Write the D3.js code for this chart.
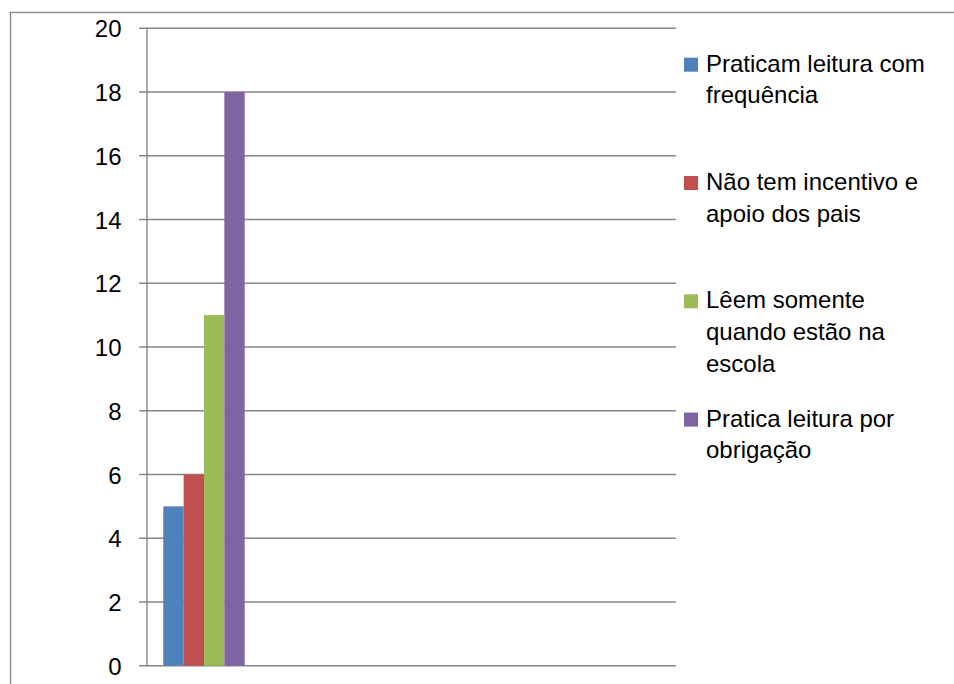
<!DOCTYPE html>
<html>
<head>
<meta charset="utf-8">
<script src="https://cdn.jsdelivr.net/npm/d3@7"></script>
<style>
  html, body { margin: 0; padding: 0; background: #fff; }
  svg { display: block; }
  text { font-family: "Liberation Sans", Arial, sans-serif; fill: #000; }
</style>
</head>
<body>
<svg id="chart" width="954" height="684"></svg>
<script>
// ---- data ----
const categories = ["1"];
const seriesNames = [
  "Praticam leitura com frequência",
  "Não tem incentivo e apoio dos pais",
  "Lêem somente quando estão na escola",
  "Pratica leitura por obrigação"
];
const seriesValues = [5, 6, 11, 18];
const seriesColors = ["#4F81BD", "#C0504D", "#9BBB59", "#8064A2"];
const legendLines = [
  ["Praticam leitura com", "frequência"],
  ["Não tem incentivo e", "apoio dos pais"],
  ["Lêem somente", "quando estão na", "escola"],
  ["Pratica leitura por", "obrigação"]
];
const yTicks = [0, 2, 4, 6, 8, 10, 12, 14, 16, 18, 20];

// ---- layout ----
const svg = d3.select("#chart");
const plot = { left: 147, right: 676, top: 28.3, bottom: 665.7 };
const gridColor = "#868686";
const fontSize = 24;

// outer chart border
svg.append("rect")
  .attr("x", 10.5).attr("y", 12.5)
  .attr("width", 1000).attr("height", 1000)
  .attr("fill", "none").attr("stroke", gridColor).attr("stroke-width", 1.3);

const y = d3.scaleLinear().domain([0, 20]).range([plot.bottom, plot.top]);

// gridlines
svg.append("g").selectAll("line").data(yTicks).join("line")
  .attr("x1", plot.left - 8).attr("x2", plot.right)
  .attr("y1", d => y(d)).attr("y2", d => y(d))
  .attr("stroke", gridColor).attr("stroke-width", 1.4);

// y axis line
svg.append("line")
  .attr("x1", plot.left).attr("x2", plot.left)
  .attr("y1", plot.top).attr("y2", plot.bottom)
  .attr("stroke", gridColor).attr("stroke-width", 1.4);

// y axis labels via d3 axis
const yAxis = d3.axisLeft(y).tickValues(yTicks).tickSize(0).tickPadding(0);
const gy = svg.append("g").attr("transform", `translate(${121.5},0)`).call(yAxis);
gy.select(".domain").remove();
gy.selectAll("text")
  .style("font-family", '"Liberation Sans", Arial, sans-serif')
  .style("font-size", fontSize + "px")
  .attr("fill", "#000")
  .attr("dy", "0.36em");

// bars
const x0 = d3.scaleBand().domain(categories)
  .range([plot.left, plot.left + 114]).paddingInner(0).paddingOuter(0.2);
const x1 = d3.scaleBand().domain(d3.range(seriesNames.length))
  .range([0, x0.bandwidth()]).padding(0);

const g = svg.append("g");
categories.forEach(cat => {
  g.selectAll("rect.bar").data(seriesValues).join("rect")
    .attr("class", "bar")
    .attr("x", (d, i) => x0(cat) + x1(i))
    .attr("width", x1.bandwidth())
    .attr("y", d => y(d))
    .attr("height", d => y(0) - y(d))
    .attr("fill", (d, i) => seriesColors[i]);
});

// legend
const legendX = 684;
const legendBase0 = 71.7;
const legendStep = 118.3;
const lineH = 31.7;
const leg = svg.append("g");
seriesNames.forEach((name, i) => {
  const base = legendBase0 + i * legendStep;
  leg.append("rect")
    .attr("x", legendX).attr("y", base - 14)
    .attr("width", 14).attr("height", 14)
    .attr("fill", seriesColors[i]);
  const t = leg.append("text")
    .attr("x", legendX + 22).attr("y", base)
    .style("font-size", fontSize + "px");
  legendLines[i].forEach((ln, j) => {
    t.append("tspan").attr("x", legendX + 22).attr("y", base + j * lineH).text(ln);
  });
});
</script>
</body>
</html>
